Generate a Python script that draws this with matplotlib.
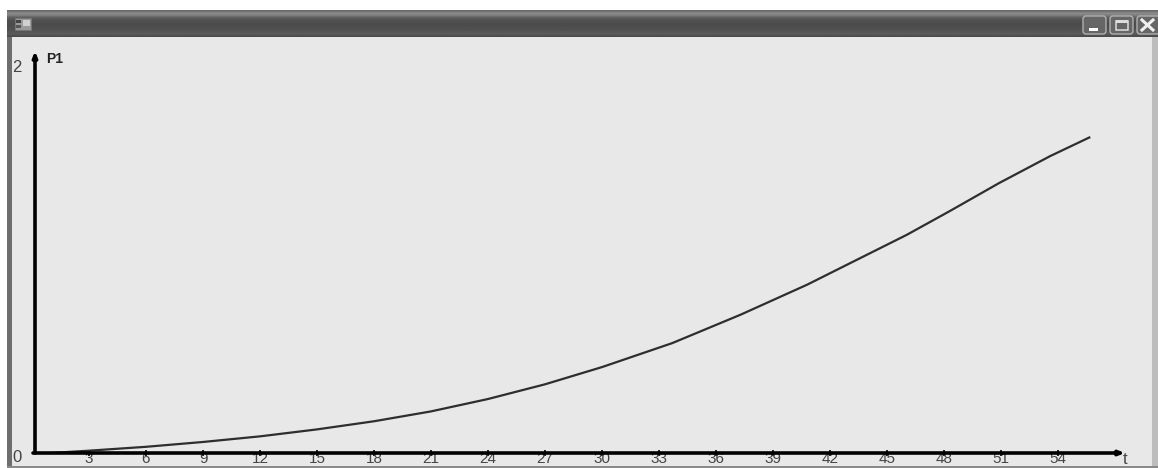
import numpy as np
import matplotlib
matplotlib.use('Agg')
import matplotlib.pyplot as plt
from matplotlib.patches import Rectangle, FancyBboxPatch

plt.rcParams['font.family'] = ['Liberation Sans', 'DejaVu Sans']

W, H = 1158, 468

# curve
t = [1.0, 3, 6, 9, 12, 15, 18, 21, 24, 27, 30, 33.7, 37.3, 40.8, 43.2, 46.05, 48.3, 50.9, 53.6, 55.7]
p1 = [0.0, 0.012, 0.032, 0.057, 0.086, 0.122, 0.164, 0.215, 0.279, 0.355, 0.444,
      0.568, 0.715, 0.870, 0.988, 1.128, 1.250, 1.395, 1.535, 1.633]
x_ticks = list(range(3, 55, 3))
y_ticks = [0, 2]


def px_rect(x0, y0, x1, y1):
    # pixels from the top left -> figure fractions
    return [x0 / W, 1 - y1 / H, (x1 - x0) / W, (y1 - y0) / H]


fig = plt.figure(figsize=(W / 100, H / 100), dpi=100, facecolor='white')

# window chrome
chrome = fig.add_axes([0, 0, 1, 1], zorder=0)
chrome.set_xlim(0, W)
chrome.set_ylim(H, 0)
chrome.axis('off')
chrome.add_patch(Rectangle((7, 37), 1145, 431, fc='#e8e8e8', ec='none'))
chrome.add_patch(Rectangle((7, 37), 5, 431, fc='#6e6e6e', ec='none'))
chrome.add_patch(Rectangle((1152, 37), 6, 431, fc='#bdbdbd', ec='none'))
chrome.add_patch(Rectangle((7, 466), 1151, 2, fc='#8a8a8a', ec='none'))

grad = np.array([0.42, 0.55, 0.50, 0.38, 0.33, 0.31, 0.30, 0.30, 0.31, 0.32, 0.34, 0.36, 0.30]).reshape(-1, 1)
chrome.imshow(grad, extent=[7, W, 37, 10], cmap='gray', vmin=0, vmax=1, aspect='auto', interpolation='bilinear')
chrome.set_xlim(0, W)
chrome.set_ylim(H, 0)

# icon
chrome.add_patch(Rectangle((15, 18), 16, 12, fc='#9a9a9a', ec='#777777', lw=0.5))
chrome.add_patch(Rectangle((23, 20), 7, 6, fc='#d0d0d0', ec='none'))
chrome.add_patch(Rectangle((16, 20), 5, 3, fc='#444444', ec='none'))
chrome.add_patch(Rectangle((16, 25), 5, 3, fc='#555555', ec='none'))

# buttons
for bx in [1083, 1110, 1137]:
    chrome.add_patch(FancyBboxPatch((bx, 16), 23, 18, boxstyle='round,pad=0,rounding_size=3',
                                    fc='#666666', ec='#b0b0b0', lw=1.0))
chrome.add_patch(Rectangle((1089, 27.5), 9, 3, fc='white', ec='none'))
chrome.add_patch(Rectangle((1115.5, 21), 12, 9, fc='none', ec='#dddddd', lw=1.1))
chrome.add_patch(Rectangle((1115.5, 20), 12, 2.5, fc='#dddddd', ec='none'))
chrome.plot([1142, 1153], [20, 30], color='#f0f0f0', lw=2.2)
chrome.plot([1142, 1153], [30, 20], color='#f0f0f0', lw=2.2)

# plot
ax = fig.add_axes(px_rect(32, 66, 32 + 19 * 58, 453), zorder=1)
ax.patch.set_alpha(0)
ax.set_xlim(0, 58)
ax.set_ylim(0, 2)
for s in ax.spines.values():
    s.set_visible(False)

ax.set_xticks(x_ticks)
ax.set_xticklabels([str(v) for v in x_ticks], fontsize=11, color='#444444')
ax.tick_params(axis='x', direction='inout', length=4, width=1.2, color='black', pad=-3)
ax.set_yticks([])

ax.annotate('', xy=(1125, 453), xytext=(33, 453), xycoords=chrome.transData, textcoords=chrome.transData,
            arrowprops=dict(arrowstyle='-|>,head_length=0.3,head_width=0.12', color='black', lw=2.6, shrinkA=0, shrinkB=0))
ax.annotate('', xy=(35, 51), xytext=(35, 453), xycoords=chrome.transData, textcoords=chrome.transData,
            arrowprops=dict(arrowstyle='-|>,head_length=0.3,head_width=0.12', color='black', lw=2.6, shrinkA=0, shrinkB=0))

ax.plot(t, p1, color='#2e2e2e', lw=1.6, clip_on=False, solid_capstyle='butt')

for v, py in zip(y_ticks, [457, 68]):
    ax.text(17, py, str(v), transform=chrome.transData, fontsize=12, color='#444444', ha='center', va='center')
ax.text(46, 59, 'P1', transform=chrome.transData, fontsize=10, fontweight='bold', color='#222222', ha='left', va='center')
ax.text(1125, 460, 't', transform=chrome.transData, fontsize=12, color='#444444', ha='center', va='center')

fig.savefig('out.png', dpi=100, facecolor='white')
